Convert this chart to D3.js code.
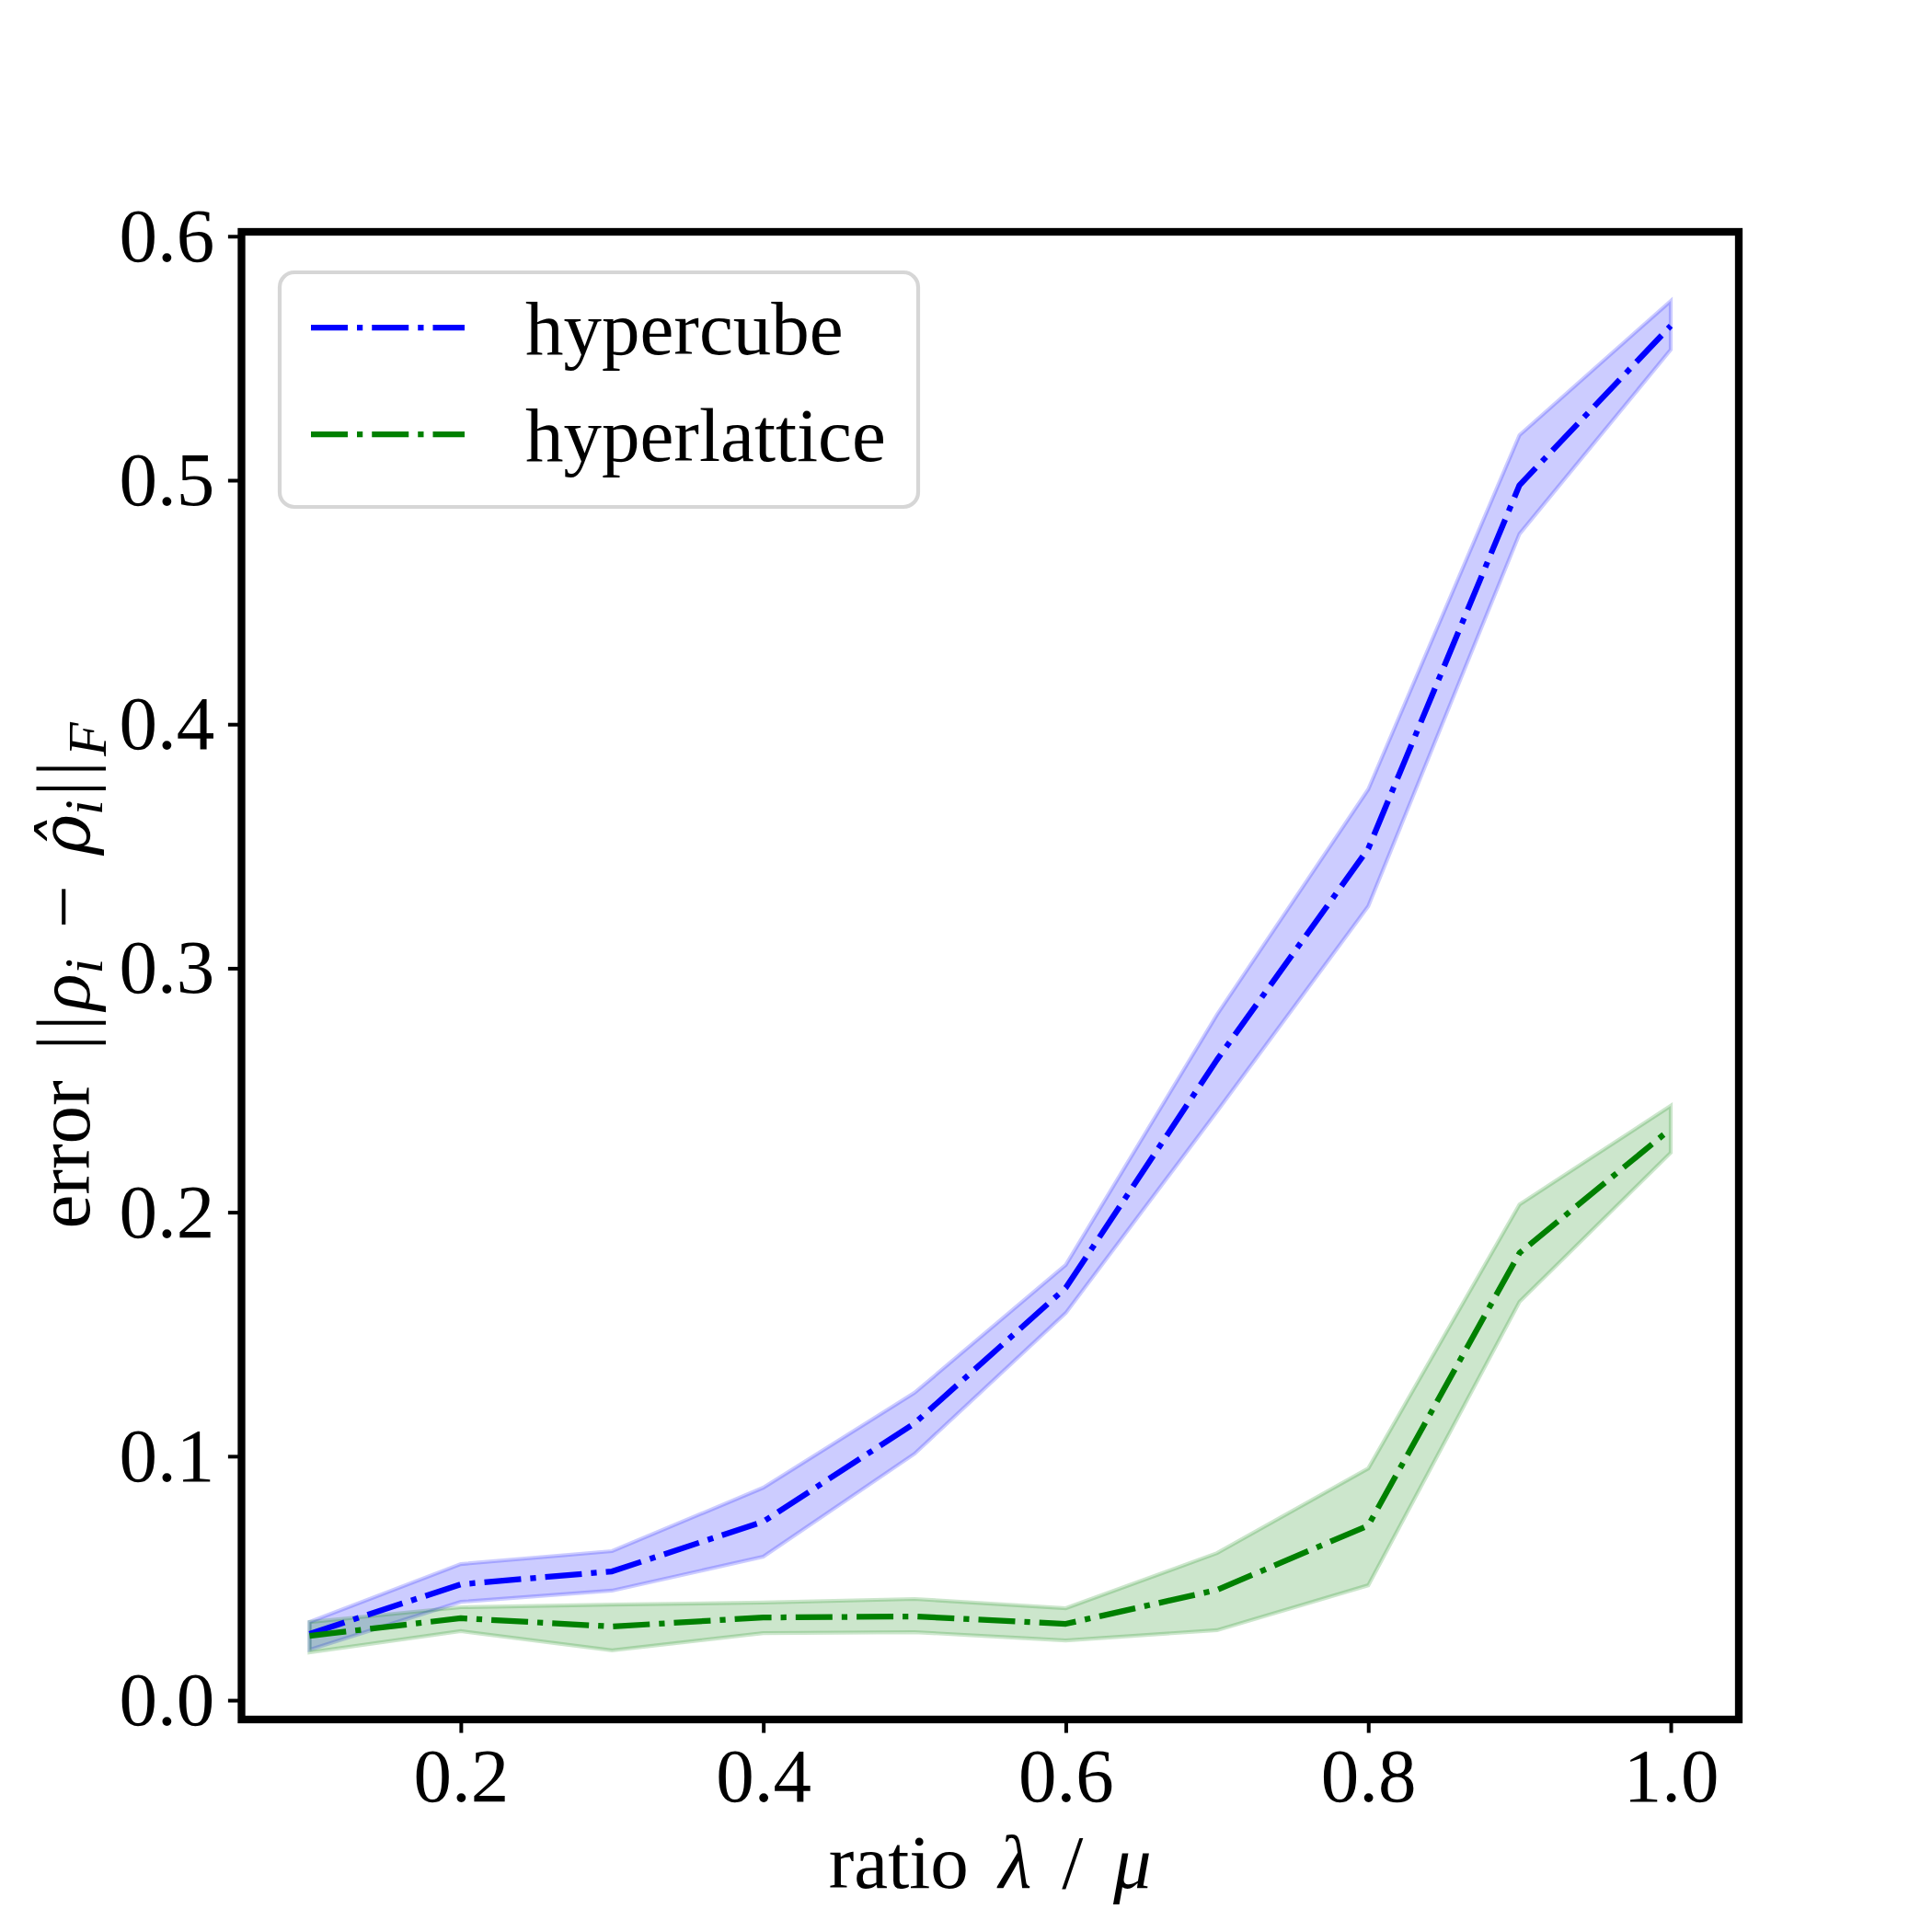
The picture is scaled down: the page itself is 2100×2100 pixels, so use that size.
<!DOCTYPE html>
<html>
<head>
  <meta charset="utf-8">
  <script src="https://cdn.jsdelivr.net/npm/d3@7"></script>
  <style>
    * { margin: 0; padding: 0; }
    body { background: white; }
    text { font-family: "Liberation Serif", "DejaVu Serif", serif; fill: black; }
  </style>
</head>
<body>
  <div class="chart"></div>
  <script>
    // data
    var ratios = [0.1, 0.2, 0.3, 0.4, 0.5, 0.6, 0.7, 0.8, 0.9, 1.0];

    var cubeMean = [0.0272, 0.0475, 0.0528, 0.0732, 0.1135, 0.169, 0.2625, 0.349, 0.498, 0.5633];
    var cubeHigh = [0.0321, 0.0558, 0.0611, 0.0871, 0.126, 0.1784, 0.281, 0.3733, 0.5185, 0.5735];
    var cubeLow  = [0.0207, 0.0403, 0.0449, 0.0588, 0.101, 0.1587, 0.2413, 0.3254, 0.478, 0.5535];

    var latticeMean = [0.0264, 0.0336, 0.0302, 0.0339, 0.0343, 0.0313, 0.0452, 0.0716, 0.1833, 0.2342];
    var latticeHigh = [0.032, 0.0381, 0.0392, 0.040, 0.0415, 0.0377, 0.0603, 0.095, 0.2032, 0.2436];
    var latticeLow  = [0.0196, 0.0283, 0.0204, 0.0275, 0.0279, 0.0245, 0.0287, 0.0471, 0.1633, 0.2244];

    var seriesNames = ["hypercube", "hyperlattice"];
    var xTicks = [0.2, 0.4, 0.6, 0.8, 1.0];
    var yTicks = [0.0, 0.1, 0.2, 0.3, 0.4, 0.5, 0.6];

    // figure geometry (7in x 7in at 300 dpi)
    var w = 2100, h = 2100;
    var axLeft = 262.5, axRight = 1890, axTop = 252, axBottom = 1869;
    var fontSize = 83;
    var tickLen = 14.6;

    var series = [
      { name: seriesNames[0], color: "blue", mean: cubeMean, low: cubeLow, high: cubeHigh },
      { name: seriesNames[1], color: "green", mean: latticeMean, low: latticeLow, high: latticeHigh }
    ];

    var xScale = d3.scaleLinear().domain([0.055, 1.045]).range([axLeft, axRight]);
    var yScale = d3.scaleLinear().domain([-0.0079, 0.6018]).range([axBottom, axTop]);

    var svg = d3.select(".chart").append("svg")
      .attr("width", w)
      .attr("height", h);

    svg.append("rect").attr("width", w).attr("height", h).attr("fill", "white");

    var plot = svg.append("g");

    // shaded bands go under the lines (like matplotlib's zorder)
    var area = d3.area()
      .x(function(d) { return xScale(d.x); })
      .y0(function(d) { return yScale(d.lo); })
      .y1(function(d) { return yScale(d.hi); });

    series.forEach(function(s) {
      var pts = ratios.map(function(r, i) { return { x: r, lo: s.low[i], hi: s.high[i] }; });
      plot.append("path")
        .datum(pts)
        .attr("d", area)
        .attr("fill", s.color)
        .attr("fill-opacity", 0.2)
        .attr("stroke", s.color)
        .attr("stroke-opacity", 0.2)
        .attr("stroke-width", 4.2);
    });

    var line = d3.line()
      .x(function(d) { return xScale(d.x); })
      .y(function(d) { return yScale(d.y); });

    var dash = "40,10,6.25,10";

    series.forEach(function(s) {
      var pts = ratios.map(function(r, i) { return { x: r, y: s.mean[i] }; });
      plot.append("path")
        .datum(pts)
        .attr("d", line)
        .attr("fill", "none")
        .attr("stroke", s.color)
        .attr("stroke-width", 6.25)
        .attr("stroke-dasharray", dash)
        .attr("stroke-linejoin", "round");
    });

    // axes
    var xAxis = svg.append("g")
      .attr("transform", "translate(0," + axBottom + ")")
      .call(d3.axisBottom(xScale)
        .tickValues(xTicks)
        .tickFormat(d3.format(".1f"))
        .tickSize(tickLen)
        .tickPadding(15));

    var yAxis = svg.append("g")
      .attr("transform", "translate(" + axLeft + ",0)")
      .call(d3.axisLeft(yScale)
        .tickValues(yTicks)
        .tickFormat(d3.format(".1f"))
        .tickSize(tickLen)
        .tickPadding(14.6));

    [xAxis, yAxis].forEach(function(ax) {
      ax.select(".domain").remove();
      ax.selectAll(".tick line").attr("stroke", "black").attr("stroke-width", 4);
      ax.selectAll(".tick text")
        .style("font-family", "'Liberation Serif', 'DejaVu Serif', serif")
        .style("font-size", fontSize + "px")
        .attr("fill", "black");
    });

    // frame
    svg.append("rect")
      .attr("x", axLeft).attr("y", axTop)
      .attr("width", axRight - axLeft).attr("height", axBottom - axTop)
      .attr("fill", "none")
      .attr("stroke", "black")
      .attr("stroke-width", 8.3);

    // axis labels
    var xl = svg.append("text")
      .attr("x", (axLeft + axRight) / 2)
      .attr("y", 2052)
      .attr("text-anchor", "middle")
      .style("font-size", fontSize + "px")
      .style("word-spacing", "12px");
    xl.append("tspan").text("ratio ");
    xl.append("tspan").style("font-style", "italic").text("λ");
    xl.append("tspan").text(" / ");
    xl.append("tspan").style("font-style", "italic").text("μ");

    var yl = svg.append("text")
      .attr("transform", "translate(97," + (axTop + axBottom) / 2 + ") rotate(-90)")
      .attr("text-anchor", "middle")
      .style("font-size", fontSize + "px")
      .style("word-spacing", "12px");
    yl.append("tspan").text("error ");
    yl.append("tspan").style("letter-spacing", "5px").text("||");
    yl.append("tspan").style("font-style", "italic").text("ρ");
    yl.append("tspan").attr("dy", 14).style("font-size", "60px").style("font-style", "italic").text("i");
    yl.append("tspan").attr("dy", -14).text(" − ");
    yl.append("tspan")
      .style("font-family", "'DejaVu Serif', serif")
      .style("font-size", "74px")
      .style("font-style", "italic")
      .text("ρ\u0302");
    yl.append("tspan").attr("dy", 14).style("font-size", "60px").style("font-style", "italic").text("i");
    yl.append("tspan").attr("dy", -14).attr("dx", 4).style("letter-spacing", "5px").text("||");
    yl.append("tspan").attr("dy", 18).style("font-size", "60px").style("font-style", "italic").text("F");

    // legend
    var legend = svg.append("g");
    legend.append("rect")
      .attr("x", 304).attr("y", 296)
      .attr("width", 694).attr("height", 255)
      .attr("rx", 16).attr("ry", 16)
      .attr("fill", "white").attr("fill-opacity", 0.8)
      .attr("stroke", "#cccccc").attr("stroke-opacity", 0.8)
      .attr("stroke-width", 4.2);

    var rowY = [356, 472];
    series.forEach(function(s, i) {
      legend.append("line")
        .attr("x1", 338).attr("x2", 505)
        .attr("y1", rowY[i]).attr("y2", rowY[i])
        .attr("stroke", s.color)
        .attr("stroke-width", 6.25)
        .attr("stroke-dasharray", dash);
      legend.append("text")
        .attr("x", 571)
        .attr("y", rowY[i] + 29)
        .style("font-size", fontSize + "px")
        .text(s.name);
    });
  </script>
</body>
</html>
